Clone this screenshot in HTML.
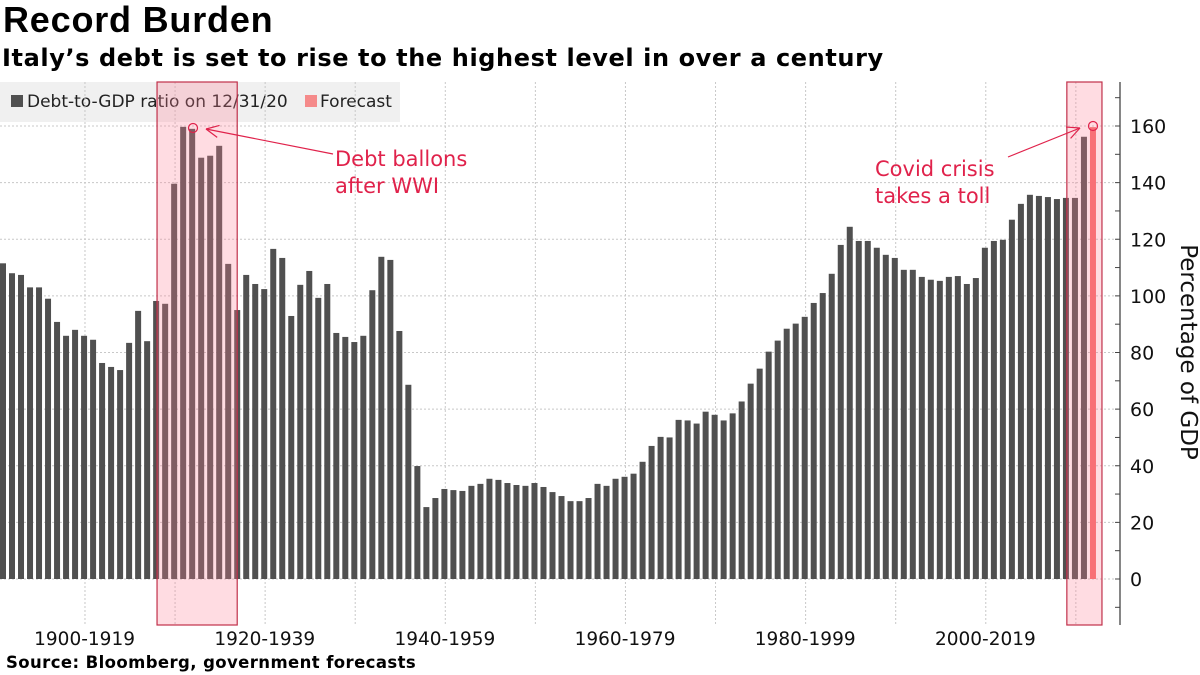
<!DOCTYPE html>
<html><head><meta charset="utf-8">
<style>
body{margin:0;width:1200px;height:675px;background:#fff;overflow:hidden;font-family:"Liberation Sans","DejaVu Sans",sans-serif;}
#title{position:absolute;left:3px;top:-1px;font-size:36px;font-weight:bold;color:#000;letter-spacing:0.8px;}
#subtitle{position:absolute;left:2px;top:44px;font-size:24px;font-weight:bold;color:#000;letter-spacing:0.6px;font-family:"DejaVu Sans","Liberation Sans",sans-serif;}
#source{position:absolute;left:6px;top:653px;font-size:16.5px;font-weight:bold;color:#000;font-family:"DejaVu Sans",sans-serif;letter-spacing:0.4px;}
svg{position:absolute;left:0;top:0;}
</style></head><body>
<div id="title">Record Burden</div>
<div id="subtitle">Italy’s debt is set to rise to the highest level in over a century</div>
<svg id="chart" width="1200" height="675"></svg>
<div id="source">Source: Bloomberg, government forecasts</div>
<script>
const startYear = 1900;
const debtValues = [111.5,108,107.4,103,103,99,90.8,85.9,88,85.9,84.5,76.3,74.9,73.8,83.4,94.7,84,98.2,97.2,139.6,
159.7,159,148.8,149.5,153,111.3,95,107.4,104.2,102.4,116.6,113.4,92.9,103.9,108.8,99.3,104.2,86.9,85.5,83.7,
85.9,102,113.8,112.7,87.6,68.6,39.9,25.4,28.6,31.8,31.4,31.1,32.9,33.6,35.4,35,33.9,33.2,32.9,33.9,
32.5,30.7,29.3,27.5,27.5,28.6,33.6,32.9,35.4,36.1,37.2,41.4,47,50.2,50,56.2,56,54.9,59.1,58,
56,58.5,62.7,69,74.3,80.3,84.2,88.4,90.2,92.6,97.5,101,107.8,118,124.4,119.4,119.4,117,114.5,113.4,
109.2,109.2,106.7,105.7,105.3,106.7,107,104.2,106.3,117,119.4,119.8,126.9,132.5,135.7,135.3,134.9,134.2,134.6,134.6,
156.2];
const forecastYears = [2021];
const forecastValues = [159.6];
const yTicks = [0,20,40,60,80,100,120,140,160];
const xLabels = ["1900-1919","1920-1939","1940-1959","1960-1979","1980-1999","2000-2019"];
const xLabelCenters = [1909.5,1929.5,1949.5,1969.5,1989.5,2009.5];
const highlightRanges = [[1917.1,1926.0],[2018.1,2022.0]];

const NS="http://www.w3.org/2000/svg";
const svg=document.getElementById('chart');
const plotTop=82, plotBottom=625, axisX=1120;
const y0=579, pxPer=(579-126)/160;
function yScale(v){return y0-v*pxPer;}
function xScale(yr){return 3+(yr-startYear)*9.008;}
function mk(tag,attrs,parent){const e=document.createElementNS(NS,tag);for(const k in attrs)e.setAttribute(k,attrs[k]);(parent||svg).appendChild(e);return e;}

const lg=mk('g',{});


mk('rect',{x:0,y:82,width:400,height:40,fill:'#f0f0f0'},lg);
const l1=mk('rect',{x:11,y:95,width:12,height:12,fill:'#505050'},lg);


const t1=mk('text',{x:27,y:107,'font-size':17,fill:'#222','font-family':'DejaVu Sans, sans-serif'},lg);t1.textContent='Debt-to-GDP ratio on 12/31/20';


const l2=mk('rect',{x:305,y:95,width:12,height:12,fill:'#f58a8a'},lg);


const t2=mk('text',{x:320,y:107,'font-size':17,fill:'#222','font-family':'DejaVu Sans, sans-serif'},lg);t2.textContent='Forecast';



for(const v of yTicks){const l=mk('line',{x1:0,x2:axisX,y1:yScale(v),y2:yScale(v),stroke:'#c8c8c8','stroke-dasharray':'2,2'});

}
for(let yr=1909.1;yr<2021;yr+=10){const x=xScale(yr);const l=mk('line',{x1:x,x2:x,y1:plotTop,y2:plotBottom,stroke:'#c8c8c8','stroke-dasharray':'2,2'});

}

debtValues.forEach((v,i)=>{const yr=startYear+i;const r=mk('rect',{x:xScale(yr)-3,y:yScale(v),width:6,height:y0-yScale(v),fill:'#505050'});

});
forecastValues.forEach((v,i)=>{const yr=forecastYears[i];const r=mk('rect',{x:xScale(yr)-3,y:yScale(v),width:6,height:y0-yScale(v),fill:'#f56a6a'});

});

highlightRanges.forEach(([a,b])=>{const x1=xScale(a),x2=xScale(b);
const r=mk('rect',{x:x1,y:plotTop,width:x2-x1,height:plotBottom-plotTop,fill:'rgba(255,130,150,0.28)',stroke:'#c0304a','stroke-width':1.2});

});

const ax=mk('line',{x1:axisX,x2:axisX,y1:plotTop,y2:plotBottom,stroke:'#444','stroke-width':1.3});


for(let v=-10;v<=170;v+=10){mk('line',{x1:axisX-5,x2:axisX,y1:yScale(v),y2:yScale(v),stroke:'#444'});}
yTicks.forEach(v=>{const t=mk('text',{x:axisX+10,y:yScale(v)+7,'font-size':19,fill:'#111','font-family':'DejaVu Sans, sans-serif'});t.textContent=String(v);

});
const yt=mk('text',{x:0,y:0,'font-size':23,fill:'#111','text-anchor':'middle','font-family':'DejaVu Sans, sans-serif',transform:'translate(1181,352) rotate(90)'});yt.textContent='Percentage of GDP';



xLabels.forEach((s,i)=>{const t=mk('text',{x:xScale(xLabelCenters[i])-4,y:645,'font-size':18.5,fill:'#111','text-anchor':'middle','font-family':'DejaVu Sans, sans-serif'});t.textContent=s;

});

const red='#e0224b';
function annot(lines,tx,ty,ax1,ay1,ax2,ay2,cx,cy,name){
 const g=mk('g',{});
 
 
 lines.forEach((s,i)=>{const t=mk('text',{x:tx,y:ty+i*27,'font-size':21,fill:red,'font-family':'DejaVu Sans, sans-serif'},g);t.textContent=s;});
 mk('line',{x1:ax1,y1:ay1,x2:ax2,y2:ay2,stroke:red,'stroke-width':1.2},g);
 const ang=Math.atan2(ay1-ay2,ax1-ax2);
 const L=14;
 for(const d of [0.45,-0.45]){mk('line',{x1:ax2,y1:ay2,x2:ax2+L*Math.cos(ang+d),y2:ay2+L*Math.sin(ang+d),stroke:red,'stroke-width':1.2},g);}
 mk('circle',{cx:cx,cy:cy,r:4.5,fill:'none',stroke:red,'stroke-width':1.2},g);
}
annot(['Debt ballons','after WWI'],335,166,333,154,206,129,193,128,'annotation-wwi');
annot(['Covid crisis','takes a toll'],875,176,1008,157,1080,128,1093,126,'annotation-covid');
</script>
</body></html>
